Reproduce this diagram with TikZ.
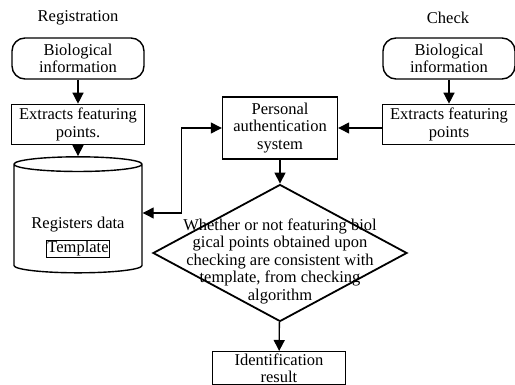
\documentclass[tikz,border=0pt]{standalone}
\usepackage{fontspec}
\setmainfont{Liberation Serif}
\usetikzlibrary{arrows.meta, positioning, shapes.geometric}

\begin{document}
\begin{tikzpicture}[
    x=1pt, y=-1pt,
    font=\fontsize{16.5}{17.5}\selectfont,
    node distance=24pt,
    termbox/.style={
        rectangle,
        rounded corners=13pt,
        draw,
        line width=1.4pt,
        align=center,
        minimum width=132pt,
        minimum height=41pt,
        inner sep=2pt
    },
    procbox/.style={
        rectangle,
        draw,
        line width=1.4pt,
        align=center,
        minimum width=133pt,
        minimum height=40pt,
        inner sep=2pt
    },
    store/.style={
        cylinder,
        shape border rotate=90,
        aspect=2.2,
        draw,
        line width=1.4pt,
        minimum width=128pt,
        minimum height=116pt
    },
    decision/.style={
        diamond,
        draw,
        line width=1.8pt,
        minimum width=254pt,
        minimum height=137pt,
        inner sep=0pt
    },
    arrow/.style={
        -{Triangle[length=11pt, width=11pt]},
        line width=1.3pt
    },
    twoway/.style={
        {Triangle[length=11pt, width=11pt]}-{Triangle[length=11pt, width=11pt]},
        line width=1.3pt
    }
]
\useasboundingbox (0,0) rectangle (515,385);

% Registration side
\node (regtitle) at (78,18) {Registration};
\node[termbox] (regbio) at (78,58.5) {Biological\\information};
\node[procbox, below=of regbio] (regextract) {Extracts featuring\\points.};
\node[store] (regdata) at (78,220) {};
\node (regtext) at (78,225) {Registers data};
\node[draw, line width=0.6pt, inner sep=1pt] (template) at (78,249) {Template};

% Check side
\node (chktitle) at (448,18) {Check};
\node[termbox] (chkbio) at (449,58.5) {Biological\\information};
\node[procbox, below=of chkbio] (chkextract) {Extracts featuring\\points};

% Matching in the middle
\node[procbox, minimum width=115pt, minimum height=62pt] (auth) at (280,128) {Personal\\authentication\\system};
\node[decision] (match) at (280,253) {};
\node[align=center] (matchtext) at ([yshift=-8pt]match.center) {Whether or not featuring biol\\gical points obtained upon\\checking are consistent with\\template, from checking\\algorithm};
\node[procbox, anchor=north, minimum height=0pt] (result) at (279,351) {Identification\\result};

% Arrows
\draw[arrow] (regbio) -- (regextract);
\draw[arrow] (regextract) -- (regdata);
\draw[arrow] (chkbio) -- (chkextract);
\draw[arrow] (chkextract.west |- auth) -- (auth);
\draw[twoway] (auth.west) -- ++(-40,0) |- ([yshift=7pt]regdata.east);
\draw[arrow] (auth) -- (match);
\draw[arrow] (match) -- (result);

\end{tikzpicture}
\end{document}
